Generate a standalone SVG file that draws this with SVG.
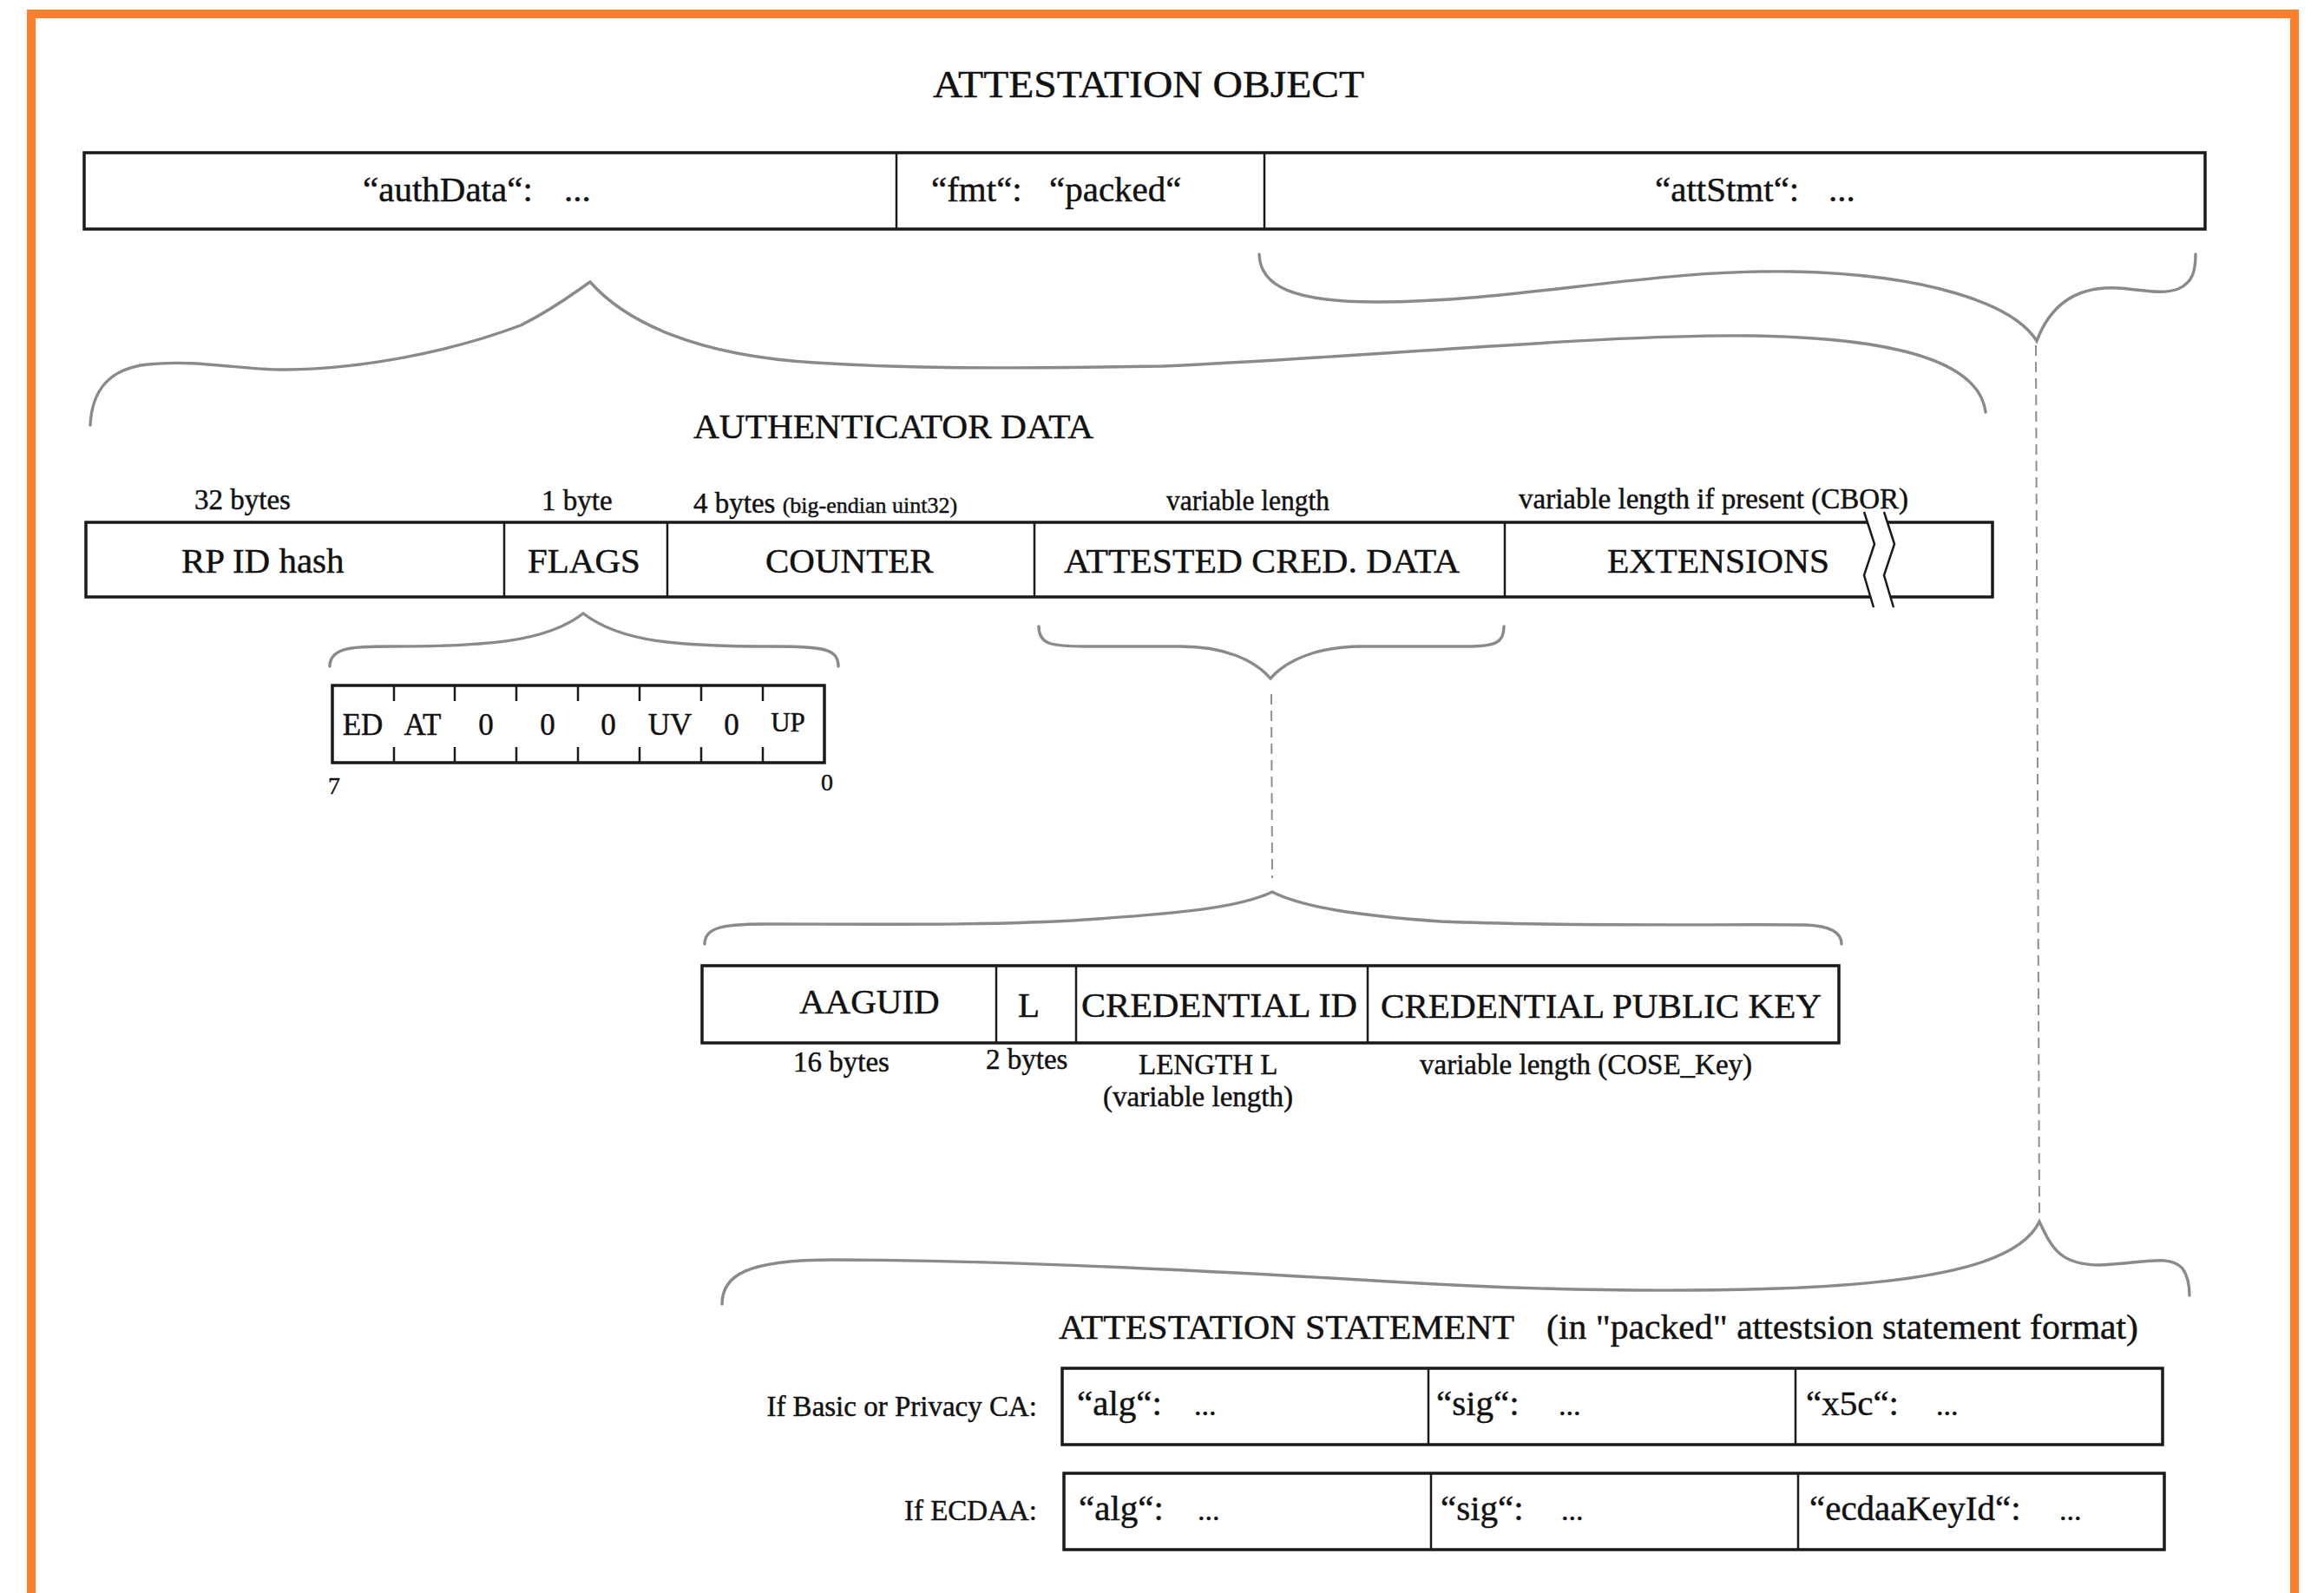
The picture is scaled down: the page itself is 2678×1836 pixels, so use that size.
<svg xmlns="http://www.w3.org/2000/svg" width="2678" height="1836" viewBox="0 0 2678 1836">
  <style>
    text { font-family: "Liberation Serif", "Times New Roman", serif; fill: #111; stroke: #111; stroke-width: 0.45; }
    .title { font-size: 44px; }
    .head { font-size: 41px; }
    .cell { font-size: 41px; }
    .lbl { font-size: 33px; }
    .tiny { font-size: 26px; }
    .bit { font-size: 35px; text-anchor: middle; }
    .stmt { font-size: 41px; }
    .dots { font-size: 34px; }
    .box { fill: #fff; stroke: #1a1a1a; stroke-width: 3.5; }
    .div { stroke: #1a1a1a; stroke-width: 2.5; fill: none; }
    .brace { fill: none; stroke: #8a8a8a; stroke-width: 3.4; stroke-linecap: round; }
    .dash { fill: none; stroke: #8f8f8f; stroke-width: 2; stroke-dasharray: 12 7; }
    .end { text-anchor: end; }
  </style>

  <rect width="2678" height="1836" fill="#fff"/>
  <!-- frame -->
  <rect x="36" y="16" width="2608" height="1900" fill="none" stroke="#FD7F2E" stroke-width="10"/>

  <text class="title" x="1075" y="112" textLength="497" lengthAdjust="spacingAndGlyphs">ATTESTATION OBJECT</text>

  <!-- attestation object map -->
  <g id="attestation-object">
    <rect class="box" x="97" y="176" width="2444" height="88" stroke-width="4.5"/>
    <line class="div" x1="1033" y1="176" x2="1033" y2="264" stroke-width="3"/>
    <line class="div" x1="1457" y1="176" x2="1457" y2="264" stroke-width="3"/>
    <text class="cell" x="418" y="232">“authData“:</text>
    <text class="cell" x="650" y="232">...</text>
    <text class="cell" x="1073" y="232">“fmt“:</text>
    <text class="cell" x="1209" y="232">“packed“</text>
    <text class="cell" x="1907" y="232">“attStmt“:</text>
    <text class="cell" x="2107" y="232">...</text>
  </g>

  <!-- authenticator data -->
  <g id="authenticator-data">
    <text class="head" x="799" y="505" textLength="461" lengthAdjust="spacingAndGlyphs">AUTHENTICATOR DATA</text>
    <text class="lbl" x="224" y="587">32 bytes</text>
    <text class="lbl" x="624" y="588">1 byte</text>
    <text class="lbl" x="799" y="591">4 bytes <tspan class="tiny">(big-endian uint32)</tspan></text>
    <text class="lbl" x="1344" y="588" textLength="188" lengthAdjust="spacingAndGlyphs">variable length</text>
    <text class="lbl" x="1750" y="586">variable length if present (CBOR)</text>
    <rect class="box" x="99" y="602" width="2197" height="86"/>
    <line class="div" x1="581" y1="602" x2="581" y2="688"/>
    <line class="div" x1="769" y1="602" x2="769" y2="688"/>
    <line class="div" x1="1192" y1="602" x2="1192" y2="688"/>
    <line class="div" x1="1734" y1="602" x2="1734" y2="688"/>
    <text class="cell" x="209" y="660">RP ID hash</text>
    <text class="cell" x="608" y="660">FLAGS</text>
    <text class="cell" x="882" y="660">COUNTER</text>
    <text class="cell" x="1226" y="660" textLength="456" lengthAdjust="spacingAndGlyphs">ATTESTED CRED. DATA</text>
    <text class="cell" x="1852" y="660" textLength="256" lengthAdjust="spacingAndGlyphs">EXTENSIONS</text>
    <!-- break mark -->
    <polygon points="2148,590 2160,627 2148,663 2159,700 2182,700 2171,663 2183,627 2171,590" fill="#fff"/>
    <polyline class="div" points="2148,590 2160,627 2148,663 2159,700"/>
    <polyline class="div" points="2171,590 2183,627 2171,663 2182,700"/>
  </g>

  <!-- flags byte -->
  <g id="flags">
    <rect class="box" x="383" y="790" width="567" height="89" stroke-width="3"/>
    <path class="div" d="M454,790v18M524,790v18M595,790v18M666,790v18M737,790v18M808,790v18M879,790v18M454,861v18M524,861v18M595,861v18M666,861v18M737,861v18M808,861v18M879,861v18"/>
    <text class="bit" x="418" y="847">ED</text>
    <text class="bit" x="487" y="847">AT</text>
    <text class="bit" x="560" y="847">0</text>
    <text class="bit" x="631" y="847">0</text>
    <text class="bit" x="701" y="847">0</text>
    <text class="bit" x="772" y="847">UV</text>
    <text class="bit" x="843" y="847">0</text>
    <text class="bit" x="908" y="843" style="font-size:31px">UP</text>
    <text x="378" y="915" style="font-size:28px">7</text>
    <text x="946" y="911" style="font-size:28px">0</text>
  </g>

  <!-- attested credential data -->
  <g id="attested-cred-data">
    <rect class="box" x="809" y="1113" width="1310" height="89"/>
    <line class="div" x1="1148" y1="1113" x2="1148" y2="1202"/>
    <line class="div" x1="1240" y1="1113" x2="1240" y2="1202"/>
    <line class="div" x1="1576" y1="1113" x2="1576" y2="1202"/>
    <text class="cell" x="921" y="1168">AAGUID</text>
    <text class="cell" x="1173" y="1172">L</text>
    <text class="cell" x="1246" y="1172" textLength="318" lengthAdjust="spacingAndGlyphs">CREDENTIAL ID</text>
    <text class="cell" x="1591" y="1173" textLength="508" lengthAdjust="spacingAndGlyphs">CREDENTIAL PUBLIC KEY</text>
    <text class="lbl" x="914" y="1235">16 bytes</text>
    <text class="lbl" x="1136" y="1232">2 bytes</text>
    <text class="lbl" x="1312" y="1238">LENGTH L</text>
    <text class="lbl" x="1271" y="1275">(variable length)</text>
    <text class="lbl" x="1636" y="1238">variable length (COSE_Key)</text>
  </g>

  <!-- attestation statement -->
  <g id="attestation-statement">
    <text class="head" x="1220" y="1543" textLength="525" lengthAdjust="spacingAndGlyphs">ATTESTATION STATEMENT</text>
    <text class="head" x="1782" y="1543" textLength="682" lengthAdjust="spacingAndGlyphs">(in "packed" attestsion statement format)</text>
    <text class="lbl end" x="1195" y="1632">If Basic or Privacy CA:</text>
    <text class="lbl end" x="1195" y="1752">If ECDAA:</text>
    <rect class="box" x="1224" y="1577" width="1268" height="88" stroke-width="3"/>
    <line class="div" x1="1646" y1="1577" x2="1646" y2="1665" stroke-width="2"/>
    <line class="div" x1="2069" y1="1577" x2="2069" y2="1665" stroke-width="2"/>
    <text class="stmt" x="1241" y="1631">“alg“:</text>
    <text class="dots" x="1376" y="1631">...</text>
    <text class="stmt" x="1655" y="1631">“sig“:</text>
    <text class="dots" x="1796" y="1631">...</text>
    <text class="stmt" x="2081" y="1631">“x5c“:</text>
    <text class="dots" x="2231" y="1631">...</text>
    <rect class="box" x="1226" y="1698" width="1268" height="88" stroke-width="3"/>
    <line class="div" x1="1649" y1="1698" x2="1649" y2="1786" stroke-width="2"/>
    <line class="div" x1="2072" y1="1698" x2="2072" y2="1786" stroke-width="2"/>
    <text class="stmt" x="1243" y="1752">“alg“:</text>
    <text class="dots" x="1380" y="1752">...</text>
    <text class="stmt" x="1660" y="1752">“sig“:</text>
    <text class="dots" x="1799" y="1752">...</text>
    <text class="stmt" x="2085" y="1752">“ecdaaKeyId“:</text>
    <text class="dots" x="2373" y="1752">...</text>
  </g>

  <!-- braces and dashed leaders -->
  <g id="connectors">
    <path class="brace" d="M104,490 C106,450 125,425 170,420 C230,414 280,427 330,426 C420,425 520,405 600,375 C640,355 665,335 680,325 C720,370 800,410 940,418 C1050,425 1140,425 1340,422 C1600,410 1850,385 2020,387 C2160,389 2280,410 2288,475"/>
    <path class="brace" d="M1451,293 C1452,330 1490,348 1587,348 C1750,348 1900,310 2065,313 C2220,316 2320,350 2347,393 C2365,345 2400,330 2440,332 C2470,334 2490,340 2510,333 C2528,325 2530,310 2530,293"/>
    <path class="brace" d="M380,768 C380,745 410,745 450,745 C560,745 630,740 672,707 C715,740 780,745 890,745 C950,745 966,748 966,768"/>
    <path class="brace" d="M1197,722 C1197,742 1210,745 1250,745 L1360,745 C1410,745 1445,760 1464,782 C1483,760 1520,745 1570,745 L1690,745 C1725,745 1733,740 1733,722"/>
    <path class="brace" d="M812,1088 C812,1070 830,1065 880,1065 C1000,1065 1150,1067 1250,1060 C1370,1052 1430,1045 1466,1028 C1500,1045 1560,1055 1660,1062 C1800,1068 1990,1065 2080,1066 C2110,1067 2122,1075 2122,1088"/>
    <path class="brace" d="M832,1503 C832,1470 860,1452 960,1452 C1150,1452 1400,1465 1600,1477 C1750,1486 1900,1490 2050,1485 C2250,1478 2330,1450 2350,1408 C2365,1440 2375,1458 2420,1458 C2470,1456 2500,1445 2515,1462 C2522,1472 2523,1485 2523,1493"/>
    <line class="dash" x1="1465" y1="800" x2="1466" y2="1012"/>
    <line class="dash" x1="2346" y1="398" x2="2350" y2="1403"/>
  </g>
</svg>
